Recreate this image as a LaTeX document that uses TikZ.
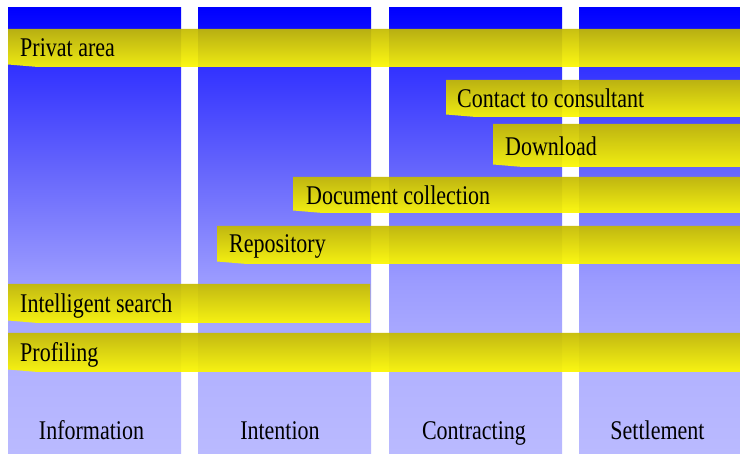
\documentclass[tikz,border=0pt]{standalone}
\usepackage{fontspec}
\setmainfont{Liberation Serif}
\definecolor{c0}{RGB}{0,0,255}
\definecolor{c1}{RGB}{12,12,255}
\definecolor{c2}{RGB}{50,50,255}
\definecolor{c3}{RGB}{102,102,252}
\definecolor{c4}{RGB}{155,155,255}
\definecolor{c5}{RGB}{178,178,255}
\definecolor{c6}{RGB}{186,186,255}
\definecolor{ytop}{RGB}{198,188,0}
\definecolor{ybot}{RGB}{252,248,0}
\pgfdeclareverticalshading{colgrad}{100bp}{color(0bp)=(c6); color(25bp)=(c6); color(34.4bp)=(c5); color(44.5bp)=(c4); color(56.8bp)=(c3); color(68.4bp)=(c2); color(72.6bp)=(c1); color(75bp)=(c0); color(100bp)=(c0)}
\pgfdeclareverticalshading{bargrad}{100bp}{color(0bp)=(ybot); color(25bp)=(ybot); color(75bp)=(ytop); color(100bp)=(ytop)}
\newcommand\mybar[4]{\shade[shading=bargrad, opacity=0.93] (#1,#2) -- (#3,#2) -- (#3,#4) -- ({#1+30},#4) -- (#1,{#4-2.5}) -- cycle;}
\newcommand\lbl[1]{\scalebox{0.815}[1]{#1}}
\tikzset{
  coltext/.style={inner sep=0pt, anchor=base, font=\fontsize{27}{30}\selectfont},
  bartext/.style={inner sep=0pt, anchor=base west, font=\fontsize{27}{30}\selectfont}
}
\begin{document}
\begin{tikzpicture}[x=1pt,y=-1pt]
\useasboundingbox (0,0) rectangle (740,454);
\fill[white] (0,0) rectangle (740,454);
% columns
\shade[shading=colgrad] (8,8) rectangle (181,454);
\shade[shading=colgrad] (198,8) rectangle (371,454);
\shade[shading=colgrad] (389,8) rectangle (562,454);
\shade[shading=colgrad] (579,8) rectangle (740,454);
% bars
\mybar{8}{29}{740}{67}
\mybar{446}{80}{740}{117}
\mybar{493}{124}{740}{167}
\mybar{293}{177}{740}{213}
\mybar{217}{226}{740}{264}
\mybar{8}{284}{370}{323}
\mybar{8}{333}{740}{372}
% bar texts
\node[bartext] (privat) at (20,57) {\lbl{Privat area}};
\node[bartext] (contact) at (457,108) {\lbl{Contact to consultant}};
\node[bartext] (download) at (505,156) {\lbl{Download}};
\node[bartext] (doccoll) at (306,205) {\lbl{Document collection}};
\node[bartext] (repo) at (229,253) {\lbl{Repository}};
\node[bartext] (search) at (20,313) {\lbl{Intelligent search}};
\node[bartext] (profiling) at (20,362) {\lbl{Profiling}};
% column labels
\node[coltext] (info) at (91.5,440) {\lbl{Information}};
\node[coltext] (intent) at (280,440) {\lbl{Intention}};
\node[coltext] (contract) at (474,440) {\lbl{Contracting}};
\node[coltext] (settle) at (657.5,440) {\lbl{Settlement}};
\end{tikzpicture}
\end{document}
